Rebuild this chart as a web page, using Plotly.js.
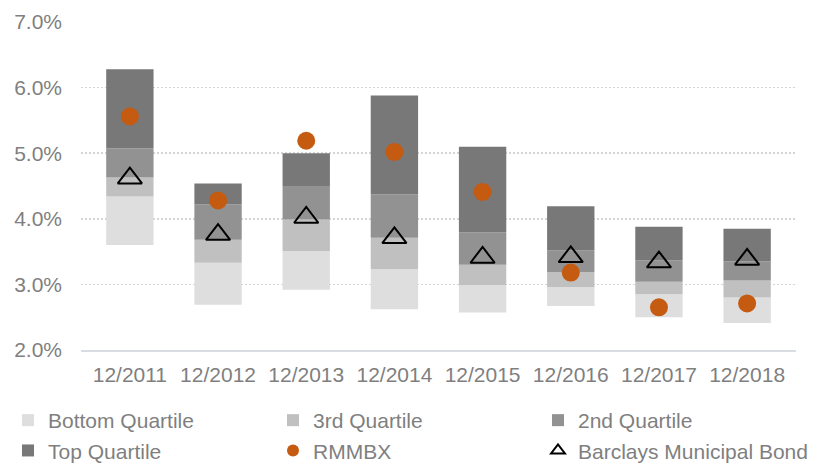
<!DOCTYPE html>
<html>
<head>
<meta charset="utf-8">
<script src="https://cdn.plot.ly/plotly-3.0.1.min.js"></script>
<style>html,body{margin:0;padding:0;background:#fff;}#chart{width:816px;height:463px;}</style>
</head>
<body>
<div id="chart"></div>
<script>
// Category labels
const years = ['12/2011','12/2012','12/2013','12/2014','12/2015','12/2016','12/2017','12/2018'];
// Quartile boundaries (%)
const bottomLow = [3.60, 2.69, 2.92, 2.62, 2.57, 2.67, 2.50, 2.41];
const thirdLow  = [4.34, 3.33, 3.51, 3.23, 2.99, 2.96, 2.85, 2.80];
const secondLow = [4.63, 3.68, 3.99, 3.71, 3.30, 3.19, 3.04, 3.06];
const topLow    = [5.07, 4.22, 4.49, 4.37, 3.79, 3.52, 3.37, 3.35];
const topHigh   = [6.28, 4.54, 5.00, 5.88, 5.10, 4.19, 3.88, 3.85];
// Point series (%)
const rmmbx    = [5.56, 4.28, 5.19, 5.02, 4.41, 3.18, 2.65, 2.71];
const barclays = [4.62, 3.76, 4.02, 3.71, 3.41, 3.42, 3.34, 3.38];

const diff = (hi, lo) => hi.map((v, i) => +(v - lo[i]).toFixed(4));
function band(name, lo, hi, color, leg) {
  return {
    type: 'bar', name: name, x: years, base: lo, y: diff(hi, lo), legend: leg,
    marker: {color: color, line: {width: 0}}, hoverinfo: 'skip'
  };
}

const traces = [
  band('Bottom Quartile', bottomLow, thirdLow, '#dedede', 'legend'),
  band('3rd Quartile', thirdLow, secondLow, '#c0c0c0', 'legend2'),
  band('2nd Quartile', secondLow, topLow, '#929292', 'legend3'),
  band('Top Quartile', topLow, topHigh, '#787878', 'legend'),
  {type: 'scatter', mode: 'markers', name: 'RMMBX', x: years, y: rmmbx, legend: 'legend2',
   marker: {symbol: 'circle', size: 18, color: '#c55a11'}, hoverinfo: 'skip'},
  {type: 'scatter', mode: 'markers', name: 'Barclays Municipal Bond', x: years, y: barclays, legend: 'legend3',
   marker: {symbol: 'triangle-up-open', size: 21, color: '#000000', line: {width: 2, color: '#000000'}}, hoverinfo: 'skip'}
];

const font = {family: '"Liberation Sans", Arial, sans-serif', size: 21, color: '#7f7f7f'};

function leg(xpx) {
  return {
    orientation: 'v', xref: 'container', yref: 'container',
    x: xpx / 816, xanchor: 'left', y: 1 - 400 / 463, yanchor: 'top',
    itemsizing: 'constant', font: font, traceorder: 'normal',
    bgcolor: 'rgba(0,0,0,0)'
  };
}

const layout = {
  width: 816, height: 463,
  margin: {l: 81, r: 20, t: 22, b: 113, autoexpand: false},
  paper_bgcolor: '#ffffff', plot_bgcolor: '#ffffff',
  font: font,
  barmode: 'overlay',
  bargap: 0.463,
  showlegend: true,
  legend: leg(8),
  legend2: leg(273),
  legend3: leg(538),
  xaxis: {
    type: 'category', showgrid: false, zeroline: false,
    showline: true, linecolor: '#d9dde3', linewidth: 1.5,
    ticks: '', tickfont: font, ticklabelstandoff: 5, automargin: false
  },
  yaxis: {
    range: [2, 7], dtick: 1, tick0: 2, tickformat: '.1f', ticksuffix: '%',
    showgrid: true, gridcolor: '#d4d4d4', gridwidth: 1.5, griddash: '2px,2px',
    zeroline: false, showline: false, ticks: '', tickfont: font, ticklabelstandoff: 18, automargin: false
  }
};

Plotly.newPlot('chart', traces, layout, {displayModeBar: false, staticPlot: true});
</script>
</body>
</html>
